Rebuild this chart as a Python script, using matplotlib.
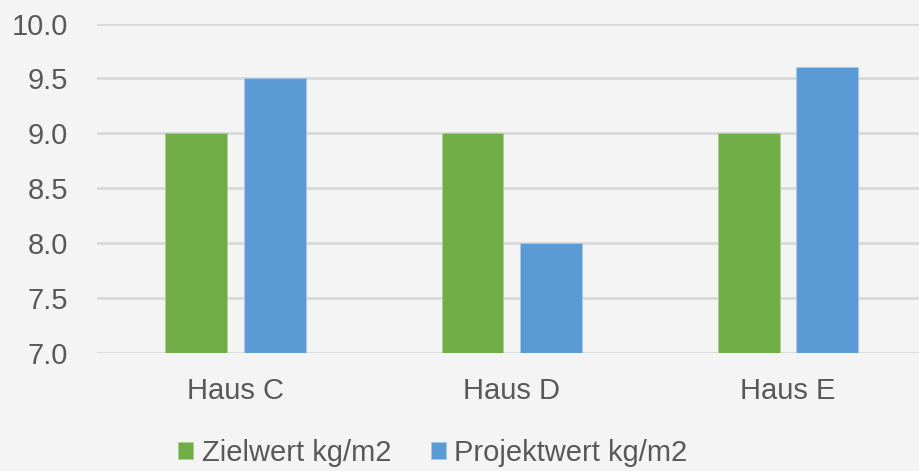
import numpy as np
import matplotlib
matplotlib.use("Agg")
import matplotlib.pyplot as plt

houses = ["Haus C", "Haus D", "Haus E"]
zielwert = [9.0, 9.0, 9.0]
projektwert = [9.5, 8.0, 9.6]
series_names = ["Zielwert kg/m2", "Projektwert kg/m2"]
y_ticks = [7.0, 7.5, 8.0, 8.5, 9.0, 9.5, 10.0]

plt.rcParams["font.family"] = ["Liberation Sans", "DejaVu Sans"]

bg = "#f4f4f4"
txt = "#595959"
green = "#70ad47"
blue = "#5b9bd5"

fig = plt.figure(figsize=(9.2, 4.71), dpi=100, facecolor=bg)
ax = fig.add_axes([97/920, 0.2505, 829/920, 0.6995], facecolor=bg)

x = np.arange(len(houses))
w = 0.224
ax.bar(x - 0.141, np.array(zielwert) - 7.0, w, bottom=7.0, color=green,
       edgecolor="#a9cf8f", linewidth=0.6, label=series_names[0], zorder=3)
ax.bar(x + 0.143, np.array(projektwert) - 7.0, w, bottom=7.0, color=blue,
       edgecolor="#a8c9ea", linewidth=0.6, label=series_names[1], zorder=3)

ax.set_xlim(-0.5, 2.5)
ax.set_ylim(7.0, 10.0)
ax.set_yticks(y_ticks)
ax.set_yticklabels([f"{v:.1f}" for v in y_ticks])
ax.set_xticks(x)
ax.set_xticklabels(houses)
ax.grid(axis="y", color="#d9d9d9", linewidth=2, zorder=0)
for s in ax.spines.values():
    s.set_visible(False)
ax.tick_params(axis="both", length=0, labelsize=21, labelcolor=txt)
ax.tick_params(axis="y", pad=21)
ax.tick_params(axis="x", pad=17)

leg = fig.legend(loc="center", bbox_to_anchor=(433/920, 1 - 453/471), ncol=2,
                 frameon=False, fontsize=21, handlelength=0.5, handleheight=0.5,
                 handletextpad=0.3, columnspacing=1.37, labelcolor=txt)

fig.savefig("out.png", dpi=100, facecolor=bg)
